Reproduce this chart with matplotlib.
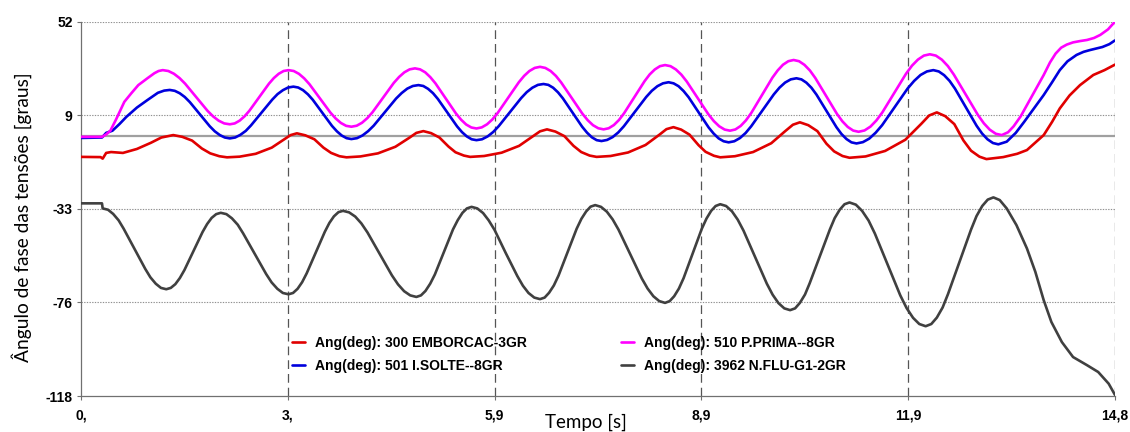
import matplotlib.pyplot as plt

# Angle traces: (time [s], angle [deg])
red_pts = [
    (0.0, -9.4), (0.28, -9.5), (0.31, -10.2), (0.36, -7.6), (0.43, -7.2), (0.6, -7.6),
    (0.8, -5.8), (1.0, -3.0), (1.15, -0.6), (1.32, 0.5),
    (1.45, -0.3), (1.59, -2.0), (1.73, -5.6), (1.85, -7.8), (1.98, -9.1), (2.09, -9.6),
    (2.27, -9.3), (2.5, -8.0), (2.73, -5.2), (2.91, -1.4), (3.0, 0.5), (3.09, 1.3),
    (3.21, 0.4), (3.34, -1.4), (3.47, -5.2), (3.58, -7.6), (3.70, -9.1), (3.8, -9.6),
    (4.0, -9.2), (4.25, -7.8), (4.5, -4.8), (4.7, -0.7), (4.8, 1.5), (4.9, 2.3),
    (5.01, 1.4), (5.13, -0.6), (5.26, -4.7), (5.36, -7.3), (5.48, -8.8), (5.57, -9.4),
    (5.77, -9.0), (6.02, -7.5), (6.27, -4.4), (6.47, 0.0), (6.57, 2.2), (6.67, 3.1),
    (6.79, 2.1), (6.92, 0.0), (7.05, -4.4), (7.16, -7.2), (7.28, -8.8), (7.38, -9.4),
    (7.58, -9.0), (7.83, -7.4), (8.08, -4.0), (8.28, 0.7), (8.38, 3.2), (8.48, 4.1),
    (8.59, 3.0), (8.71, 0.7), (8.84, -4.1), (8.94, -7.1), (9.06, -8.9), (9.15, -9.6),
    (9.36, -9.1), (9.62, -7.2), (9.88, -3.2), (10.08, 2.3), (10.19, 5.2), (10.29, 6.3),
    (10.41, 5.0), (10.54, 2.3), (10.67, -3.4), (10.78, -6.9), (10.9, -9.0), (11.0, -9.8),
    (11.23, -9.2), (11.51, -6.7), (11.8, -1.6), (12.03, 5.7), (12.14, 9.4), (12.25, 10.8),
    (12.37, 9.1), (12.5, 5.5), (12.63, -1.9), (12.74, -6.6), (12.86, -9.3), (12.96, -10.4),
    (13.2, -9.5), (13.4, -8.0), (13.54, -6.3), (13.78, 0.5), (13.9, 6.5), (14.01, 12.6),
    (14.15, 18.5), (14.3, 23.2), (14.49, 27.8), (14.65, 30.0), (14.8, 32.5),
]

blue_pts = [
    (0.0, -0.8), (0.3, -0.6), (0.36, 1.5), (0.45, 2.5), (0.55, 5.5), (0.65, 8.8),
    (0.8, 13.0), (0.95, 16.4), (1.1, 19.7), (1.19, 20.7), (1.27, 21.0),
    (1.342, 20.6), (1.413, 19.5), (1.485, 17.8), (1.557, 15.5), (1.70, 10.0),
    (1.843, 4.5), (1.915, 2.2), (1.987, 0.5), (2.058, -0.6), (2.13, -1.0),
    (2.206, -0.6), (2.28, 0.6), (2.358, 2.4), (2.433, 4.9), (2.585, 10.75),
    (2.737, 16.6), (2.813, 19.1), (2.89, 20.9), (2.964, 22.1), (3.04, 22.5),
    (3.109, 22.1), (3.178, 20.9), (3.248, 19.0), (3.317, 16.55), (3.455, 10.6),
    (3.593, 4.65), (3.663, 2.2), (3.732, 0.3), (3.801, -0.9), (3.87, -1.3),
    (3.95, -0.9), (4.03, 0.35), (4.11, 2.3), (4.19, 4.8), (4.35, 10.95),
    (4.51, 17.1), (4.59, 19.6), (4.67, 21.6), (4.75, 22.8), (4.83, 23.2),
    (4.899, 22.8), (4.968, 21.5), (5.038, 19.55), (5.107, 16.95), (5.245, 10.7),
    (5.383, 4.45), (5.453, 1.85), (5.522, -0.1), (5.591, -1.4), (5.66, -1.8),
    (5.74, -1.4), (5.82, -0.1), (5.90, 1.9), (5.98, 4.6), (6.14, 10.95),
    (6.30, 17.3), (6.38, 20.0), (6.46, 22.0), (6.54, 23.3), (6.62, 23.7),
    (6.689, 23.3), (6.758, 22.0), (6.828, 19.9), (6.897, 17.2), (7.035, 10.75),
    (7.173, 4.3), (7.243, 1.6), (7.312, -0.5), (7.381, -1.8), (7.45, -2.2),
    (7.53, -1.7), (7.61, -0.4), (7.69, 1.7), (7.77, 4.5), (7.93, 11.15),
    (8.09, 17.8), (8.17, 20.6), (8.25, 22.7), (8.33, 24.0), (8.41, 24.5),
    (8.482, 24.0), (8.553, 22.7), (8.625, 20.5), (8.697, 17.7), (8.84, 10.85),
    (8.983, 4.0), (9.055, 1.2), (9.127, -1.0), (9.198, -2.3), (9.27, -2.8),
    (9.351, -2.3), (9.432, -0.85), (9.513, 1.45), (9.593, 4.5), (9.755, 11.75),
    (9.917, 19.0), (9.998, 22.05), (10.078, 24.35), (10.159, 25.8), (10.24, 26.3),
    (10.312, 25.8), (10.383, 24.3), (10.455, 22.0), (10.527, 18.9), (10.67, 11.5),
    (10.813, 4.1), (10.885, 1.0), (10.957, -1.3), (11.028, -2.8), (11.1, -3.3),
    (11.192, -2.7), (11.283, -1.1), (11.375, 1.6), (11.467, 5.0), (11.65, 13.35),
    (11.833, 21.7), (11.925, 25.1), (12.017, 27.8), (12.108, 29.4), (12.2, 30.0),
    (12.278, 29.4), (12.355, 27.7), (12.433, 25.1), (12.51, 21.6), (12.665, 13.15),
    (12.82, 4.7), (12.898, 1.2), (12.975, -1.4), (13.053, -3.1), (13.13, -3.7),
    (13.25, -2.5), (13.38, 1.5), (13.5, 6.5), (13.65, 13.0), (13.78, 18.7),
    (13.9, 24.5), (14.01, 30.0), (14.12, 34.0), (14.25, 36.9), (14.35, 38.3),
    (14.44, 39.1), (14.62, 40.5), (14.72, 41.8), (14.8, 43.5),
]

magenta_pts = [
    (0.0, -0.3), (0.3, -0.3), (0.36, 0.8), (0.42, 2.5), (0.5, 7.5), (0.62, 15.6),
    (0.72, 19.5), (0.82, 23.2), (0.95, 26.3), (1.05, 28.6), (1.11, 29.6), (1.17, 30.0),
    (1.25, 29.6), (1.33, 28.35), (1.41, 26.4), (1.49, 23.85), (1.65, 17.7),
    (1.81, 11.55), (1.89, 9.0), (1.97, 7.05), (2.05, 5.8), (2.13, 5.4),
    (2.20, 5.8), (2.27, 7.05), (2.34, 9.0), (2.41, 11.55), (2.55, 17.7),
    (2.69, 23.85), (2.76, 26.4), (2.83, 28.35), (2.90, 29.6), (2.97, 30.0),
    (3.045, 29.6), (3.12, 28.3), (3.195, 26.25), (3.27, 23.6), (3.42, 17.15),
    (3.57, 10.7), (3.645, 8.05), (3.72, 6.0), (3.795, 4.7), (3.87, 4.3),
    (3.946, 4.75), (4.022, 6.1), (4.098, 8.2), (4.173, 10.9), (4.325, 17.55),
    (4.477, 24.2), (4.553, 26.9), (4.628, 29.0), (4.704, 30.35), (4.78, 30.8),
    (4.853, 30.35), (4.927, 29.0), (5.0, 26.8), (5.073, 24.0), (5.22, 17.15),
    (5.367, 10.3), (5.44, 7.5), (5.513, 5.3), (5.587, 3.95), (5.66, 3.5),
    (5.736, 4.0), (5.812, 5.4), (5.888, 7.6), (5.963, 10.5), (6.115, 17.5),
    (6.267, 24.5), (6.343, 27.4), (6.418, 29.6), (6.494, 31.0), (6.57, 31.5),
    (6.646, 31.0), (6.722, 29.6), (6.798, 27.35), (6.873, 24.4), (7.025, 17.3),
    (7.177, 10.2), (7.253, 7.25), (7.328, 5.0), (7.404, 3.6), (7.48, 3.1),
    (7.553, 3.6), (7.627, 5.05), (7.70, 7.35), (7.773, 10.4), (7.92, 17.7),
    (8.067, 25.0), (8.14, 28.05), (8.213, 30.3), (8.287, 31.8), (8.36, 32.3),
    (8.438, 31.8), (8.515, 30.3), (8.593, 27.95), (8.67, 24.85), (8.825, 17.4),
    (8.98, 9.95), (9.058, 6.85), (9.135, 4.5), (9.213, 3.0), (9.29, 2.5),
    (9.366, 3.05), (9.442, 4.65), (9.518, 7.2), (9.593, 10.5), (9.745, 18.55),
    (9.897, 26.6), (9.973, 29.9), (10.048, 32.45), (10.124, 34.05), (10.2, 34.6),
    (10.278, 34.05), (10.355, 32.4), (10.433, 29.85), (10.51, 26.45), (10.665, 18.3),
    (10.82, 10.15), (10.898, 6.75), (10.975, 4.2), (11.053, 2.55), (11.13, 2.0),
    (11.215, 2.6), (11.30, 4.35), (11.385, 7.15), (11.47, 10.8), (11.64, 19.6),
    (11.81, 28.4), (11.895, 32.05), (11.98, 34.8), (12.065, 36.6), (12.15, 37.2),
    (12.236, 36.6), (12.322, 34.75), (12.408, 31.85), (12.493, 28.0), (12.665, 18.85),
    (12.837, 9.7), (12.923, 5.85), (13.008, 2.95), (13.094, 1.1), (13.18, 0.5),
    (13.27, 1.8), (13.35, 4.5), (13.45, 9.0), (13.54, 14.1), (13.66, 21.0),
    (13.78, 27.8), (13.87, 33.5), (13.95, 37.5), (14.03, 40.2), (14.11, 41.6),
    (14.2, 42.6), (14.3, 43.2), (14.4, 43.7), (14.5, 44.6), (14.59, 46.0),
    (14.7, 48.5), (14.8, 52.0),
]

black_pts = [
    (0.0, -30.5), (0.30, -30.5), (0.31, -32.8),
    (0.386, -33.4), (0.46, -35.3), (0.538, -38.2), (0.61, -42.0), (0.765, -51.2),
    (0.92, -60.3), (0.993, -64.1), (1.07, -67.0), (1.144, -68.9), (1.22, -69.5),
    (1.285, -68.9), (1.35, -67.2), (1.415, -64.4), (1.48, -60.8), (1.61, -52.2),
    (1.74, -43.5), (1.805, -39.9), (1.87, -37.1), (1.935, -35.4), (2.0, -34.8),
    (2.081, -35.4), (2.16, -37.3), (2.243, -40.2), (2.32, -44.1), (2.485, -53.3),
    (2.65, -62.6), (2.728, -66.4), (2.81, -69.3), (2.889, -71.2), (2.97, -71.8),
    (3.035, -71.2), (3.10, -69.3), (3.165, -66.3), (3.23, -62.3), (3.36, -52.9),
    (3.49, -43.4), (3.555, -39.4), (3.62, -36.4), (3.685, -34.5), (3.75, -33.9),
    (3.8375, -34.6), (3.925, -36.5), (4.0125, -39.6), (4.10, -43.7), (4.275, -53.5),
    (4.45, -63.2), (4.5375, -67.3), (4.625, -70.4), (4.7125, -72.3), (4.8, -73.0),
    (4.866, -72.3), (4.93, -70.3), (4.998, -67.0), (5.065, -62.8), (5.195, -52.6),
    (5.325, -42.3), (5.393, -38.1), (5.46, -34.8), (5.524, -32.8), (5.59, -32.1),
    (5.672, -32.8), (5.755, -34.9), (5.835, -38.2), (5.92, -42.6), (6.08, -53.1),
    (6.245, -63.5), (6.325, -67.9), (6.405, -71.2), (6.488, -73.3), (6.57, -74.0),
    (6.636, -73.3), (6.70, -71.1), (6.768, -67.8), (6.835, -63.3), (6.965, -52.7),
    (7.095, -42.0), (7.163, -37.5), (7.23, -34.2), (7.294, -32.0), (7.36, -31.3),
    (7.443, -32.1), (7.527, -34.3), (7.61, -37.8), (7.693, -42.4), (7.86, -53.5),
    (8.027, -64.6), (8.11, -69.2), (8.193, -72.7), (8.277, -74.9), (8.36, -75.7),
    (8.426, -74.9), (8.49, -72.7), (8.558, -69.2), (8.625, -64.5), (8.755, -53.3),
    (8.885, -42.1), (8.953, -37.4), (9.02, -33.9), (9.084, -31.7), (9.15, -30.9),
    (9.233, -31.7), (9.317, -34.1), (9.40, -37.9), (9.483, -42.9), (9.65, -55.0),
    (9.817, -67.0), (9.90, -72.0), (9.983, -75.8), (10.067, -78.2), (10.15, -79.0),
    (10.221, -78.2), (10.29, -75.7), (10.363, -71.9), (10.43, -66.8), (10.575, -54.6),
    (10.72, -42.3), (10.788, -37.2), (10.86, -33.4), (10.929, -30.9), (11.0, -30.1),
    (11.091, -31.1), (11.18, -33.9), (11.273, -38.3), (11.363, -44.2), (11.545, -58.2),
    (11.727, -72.3), (11.818, -78.1), (11.91, -82.5), (11.999, -85.3), (12.09, -86.3),
    (12.171, -85.3), (12.25, -82.4), (12.333, -77.8), (12.41, -71.7), (12.575, -57.1),
    (12.74, -42.4), (12.818, -36.3), (12.90, -31.7), (12.979, -28.8), (13.06, -27.8),
    (13.15, -29.0), (13.25, -32.8), (13.39, -40.4), (13.54, -51.0), (13.66, -61.6),
    (13.78, -74.5), (13.89, -84.4), (14.04, -93.5), (14.2, -100.3), (14.4, -104.0),
    (14.56, -107.1), (14.71, -112.4), (14.8, -117.5),
]

x_ticks = [0.0, 2.96, 5.92, 8.88, 11.84, 14.8]
x_labels = ["0,", "3,", "5,9", "8,9", "11,9", "14,8"]
y_ticks = [52.0, 9.5, -33.0, -75.5, -118.0]
y_labels = ["52", "9", "-33", "-76", "-118"]

series = [
    (red_pts,     "#e00000", "Ang(deg): 300 EMBORCAC-3GR"),
    (blue_pts,    "#0000dd", "Ang(deg): 501 I.SOLTE--8GR"),
    (magenta_pts, "#ff00ff", "Ang(deg): 510 P.PRIMA--8GR"),
    (black_pts,   "#404040", "Ang(deg): 3962 N.FLU-G1-2GR"),
]

fig = plt.figure(figsize=(11.3, 4.32), dpi=100)
ax = fig.add_axes([0.0717, 0.0833, 0.915, 0.8665])

ax.axhline(0, color="#a0a0a0", lw=1.6, zorder=1)
for yv in y_ticks[:-1]:
    ax.axhline(yv, color="#909090", lw=0.8, ls=(0, (1.2, 1.2)), zorder=1)
for xv in x_ticks[1:]:
    ax.axvline(xv, color="#555555", lw=0.9, ls=(0, (7, 4)), zorder=1)

for pts, color, label in series:
    t, v = zip(*pts)
    ax.plot(t, v, color=color, lw=1.9, label=label, zorder=3,
            solid_joinstyle="round", solid_capstyle="round")

ax.set_xlim(0, 14.8)
ax.set_ylim(-118, 52)
ax.set_xticks(x_ticks)
ax.set_xticklabels(x_labels)
ax.set_yticks(y_ticks)
ax.set_yticklabels(y_labels)
for lab in ax.get_xticklabels() + ax.get_yticklabels():
    lab.set_fontfamily("Liberation Sans")
    lab.set_fontweight("bold")
    lab.set_fontsize(10)
ax.tick_params(axis="both", length=3, width=0.8, color="#707070", pad=3)
ax.tick_params(axis="x", pad=6)

for side in ["top", "right"]:
    ax.spines[side].set_visible(False)
for side in ["left", "bottom"]:
    ax.spines[side].set_color("#707070")
    ax.spines[side].set_linewidth(0.9)

fig.text(586 / 1130, 1 - 422 / 432, "Tempo [s]", family="Lato", fontsize=13.5,
         ha="center", va="center")
fig.text(22 / 1130, 1 - 217 / 432, "Ângulo de fase das tensões [graus]", family="Lato",
         fontsize=13.75, rotation=90, ha="center", va="center")

ax.legend(loc="upper left", bbox_to_anchor=(0.204, 0.16), ncol=2, frameon=False,
          borderpad=0, borderaxespad=0,
          handlelength=0.95, handletextpad=0.7, columnspacing=6.8, labelspacing=0.62,
          prop={"family": "Liberation Sans", "weight": "bold", "size": 10})

fig.savefig("out.png", dpi=100)
